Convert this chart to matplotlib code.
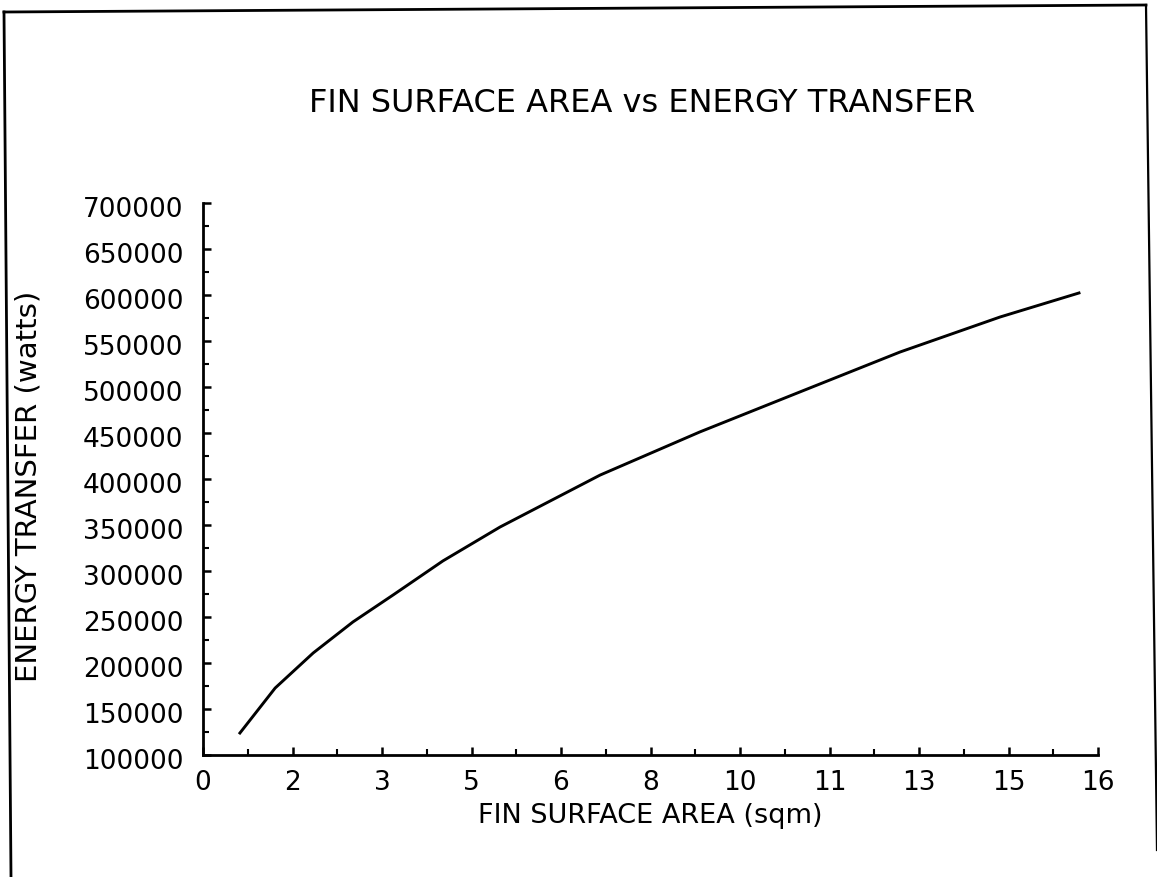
import numpy as np
import matplotlib
matplotlib.use("Agg")
import matplotlib.pyplot as plt
from matplotlib.lines import Line2D
from matplotlib.ticker import MultipleLocator
import matplotlib.transforms as mtransforms

# values
area = [0.66, 1.29, 1.97, 2.68, 3.40, 4.29, 5.31, 7.10, 8.88, 10.67, 12.46, 14.25, 15.66]
energy = [123900, 172800, 210900, 244600, 274000, 311000, 347800, 404300, 451100,
          494600, 538000, 576100, 602200]

xtick_labels = ["0", "2", "3", "5", "6", "8", "10", "11", "13", "15", "16"]
ytick_values = [100000, 150000, 200000, 250000, 300000, 350000, 400000,
                450000, 500000, 550000, 600000, 650000, 700000]

W, H = 1157, 877
fig = plt.figure(figsize=(W / 100, H / 100), dpi=100)
ax = fig.add_axes([203 / W, 1 - 755 / H, (1098 - 203) / W, (755 - 203) / H])

ax.plot(area, energy, color="black", lw=2.1, clip_on=False)

ax.set_xlim(0, 16)
ax.set_ylim(100000, 700000)
ax.set_xticks(np.linspace(0, 16, 11))
ax.set_xticklabels(xtick_labels)
ax.set_yticks(ytick_values)
ax.set_yticklabels([str(v) for v in ytick_values])
ax.xaxis.set_minor_locator(MultipleLocator(0.8))
ax.yaxis.set_minor_locator(MultipleLocator(25000))

for s in ["top", "right"]:
    ax.spines[s].set_visible(False)
for s in ["left", "bottom"]:
    ax.spines[s].set_linewidth(2.0)

ax.tick_params(which="major", direction="in", length=6, width=1.8, labelsize=19, pad=14)
ax.tick_params(which="minor", direction="in", length=4.5, width=1.5)
ax.tick_params(axis="x", which="major", pad=11)

# y labels in the original sit a little below their ticks
shift = mtransforms.ScaledTranslation(0, -4 / 100, fig.dpi_scale_trans)
for lab in ax.get_yticklabels():
    lab.set_transform(lab.get_transform() + shift)

ax.set_xlabel("FIN SURFACE AREA (sqm)", fontsize=19.5)
ax.xaxis.set_label_coords(0.5, -0.11)
ax.xaxis.label.set_va("center")
ax.set_ylabel("ENERGY TRANSFER (watts)", fontsize=21)
ax.yaxis.set_label_coords(-0.195, 0.486)
ax.yaxis.label.set_va("center")

fig.text(642 / W, 1 - 103 / H, "FIN SURFACE AREA vs ENERGY TRANSFER",
         ha="center", va="center", fontsize=23)

# frame of the scanned page
fig.lines.append(Line2D([4 / W, 11 / W], [1 - 12 / H, 0], transform=fig.transFigure, color="black", lw=2))
fig.lines.append(Line2D([4 / W, 1146 / W], [1 - 12 / H, 1 - 5 / H], transform=fig.transFigure, color="black", lw=2))
fig.lines.append(Line2D([1146 / W, 1157 / W], [1 - 5 / H, 1 - 850 / H], transform=fig.transFigure, color="black", lw=1.6))

plt.savefig("out.png", dpi=100)
